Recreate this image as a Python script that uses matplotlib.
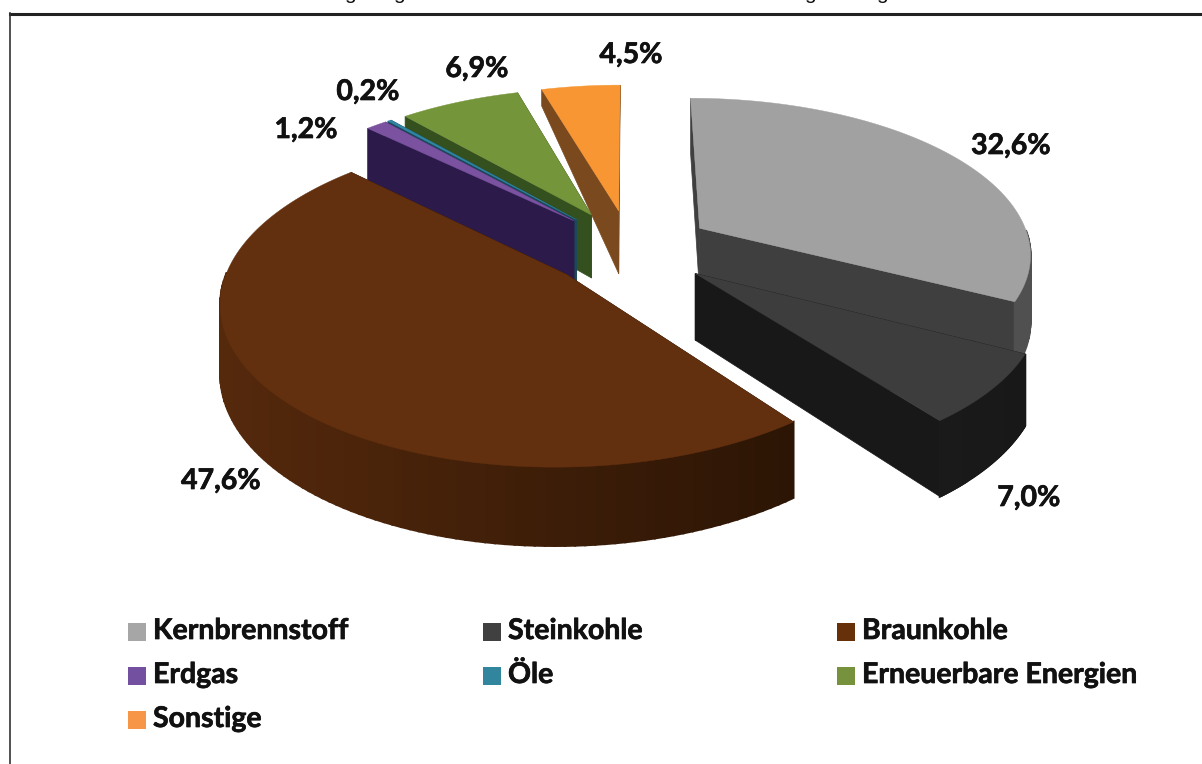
import numpy as np
import matplotlib
matplotlib.use("Agg")
import matplotlib.pyplot as plt
import matplotlib.patheffects as pe
from matplotlib.colors import to_rgb
from matplotlib.patches import Polygon, Rectangle

categories = ["Kernbrennstoff", "Steinkohle", "Braunkohle", "Erdgas", "Öle",
              "Erneuerbare Energien", "Sonstige"]
shares = [32.6, 7.0, 47.6, 1.2, 0.2, 6.9, 4.5]
share_labels = ["32,6%", "7,0%", "47,6%", "1,2%", "0,2%", "6,9%", "4,5%"]

top_colors = ["#a1a1a1", "#3d3d3d", "#63300f", "#7a52a0", "#2f86a5", "#75953b", "#f79632"]
legend_colors = ["#a6a6a6", "#404040", "#663009", "#7350a0", "#31859c", "#76923c", "#f79646"]
# wall colours: left end of the arc, right end of the arc, cut faces
wall_left = ["#505050", "#1a1a1a", "#55290c", "#2c1b4a", "#1a4a5a", "#35501f", "#7a4a1e"]
wall_right = ["#505050", "#181818", "#2c1505", "#2c1b4a", "#1a4a5a", "#35501f", "#7a4a1e"]
cut_colors = ["#3f3f3f", "#181818", "#2c1505", "#2c1b4a", "#1a4a5a", "#35501f", "#7a4a1e"]

# pie geometry in pixels
cx, cy = 630, 248
rx, ry = 332, 155
explode = 0.25
persp = 0.15
depth = 65
far_taper = [1, 1, 1, 1, 1, 1, 0.3]

# back to front
draw_order = [6, 5, 4, 3, 0, 1, 2]

label_pos = [(1011, 146), (1029, 498), (221, 481), (306, 130), (368, 92), (477, 69), (631, 55)]
legend_x = [128, 483, 837]
legend_y = [632, 676, 720]
# the title is cut off by the image edge, only these descenders are left
title_g_x = [350, 399, 810, 882]

ends = np.cumsum(shares) / np.sum(shares) * 2 * np.pi
starts = np.concatenate([[0], ends[:-1]])


def project(u, v):
    s = 1 / (1 - persp * v)
    return cx + rx * u * s, cy + ry * v * s, s


def wedge(i):
    ang = np.linspace(starts[i], ends[i], 120)
    mid = (starts[i] + ends[i]) / 2
    ou, ov = explode * np.sin(mid), -explode * np.cos(mid)
    x, y, s = project(ou + np.sin(ang), ov - np.cos(ang))
    x0, y0, s0 = project(ou, ov)
    return ang, x, y, s, x0, y0, s0


bold = [pe.withStroke(linewidth=0.5, foreground="#111111")]

fig = plt.figure(figsize=(12.02, 7.64), dpi=100)
ax = fig.add_axes([0, 0, 1, 1])
ax.set_xlim(0, 1202)
ax.set_ylim(764, 0)
ax.axis("off")

for i in draw_order:
    ang, x, y, s, x0, y0, s0 = wedge(i)
    h = depth * s
    h0 = depth * s0

    # cut faces
    for j in [0, -1]:
        far = far_taper[i] if y[j] < y0 else 1
        ax.add_patch(Polygon([(x0, y0), (x[j], y[j]), (x[j], y[j] + h[j] * far), (x0, y0 + h0)],
                             color=cut_colors[i], lw=0.5))

    # outer wall as small quads so the shade can run along the arc
    # only the front half of the rim can be seen
    left, right = np.array(to_rgb(wall_left[i])), np.array(to_rgb(wall_right[i]))
    for k in range(len(x) - 1):
        if not (np.pi / 2 <= ang[k] <= 3 * np.pi / 2):
            continue
        t = np.clip((x[k] - x.min()) / max(x.max() - x.min(), 1), 0, 1)
        ax.add_patch(Polygon([(x[k], y[k]), (x[k + 1], y[k + 1]),
                              (x[k + 1], y[k + 1] + h[k + 1]), (x[k], y[k] + h[k])],
                             color=left + (right - left) * t, lw=1.5))

    # top face
    ax.add_patch(Polygon(np.column_stack([np.r_[x0, x], np.r_[y0, y]]), color=top_colors[i], lw=0.3))

for pos, txt in zip(label_pos, share_labels):
    ax.text(pos[0], pos[1], txt, family="Lato", weight="bold", fontsize=20.5,
            color="#111111", ha="center", va="center", path_effects=bold)

# legend runs left to right, row by row
for i, name in enumerate(categories):
    row, col = divmod(i, 3)
    lx, ly = legend_x[col], legend_y[row]
    ax.add_patch(Rectangle((lx, ly - 9), 18, 18, color=legend_colors[i], lw=0))
    ax.text(lx + 25, ly - 1, name, family="Lato", weight="bold", fontsize=20.5,
            color="#111111", ha="left", va="center", path_effects=bold)

for gx in title_g_x:
    ax.text(gx, -1, "g", family="Liberation Sans", fontsize=15, color="#111111",
            ha="center", va="baseline", clip_on=False)

# chart frame, only top and left are in the picture
ax.plot([9.5, 1202], [14, 14], color="#222222", lw=2.2)
ax.plot([9.5, 9.5], [13, 764], color="#333333", lw=1.2)

fig.savefig("out.png", dpi=100)
